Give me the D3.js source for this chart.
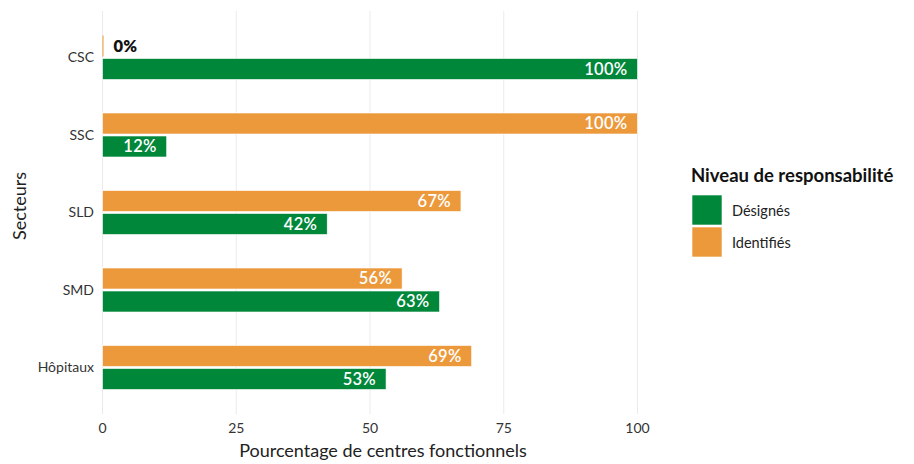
<!DOCTYPE html>
<html>
<head>
<meta charset="utf-8">
<script src="https://cdn.jsdelivr.net/npm/d3@7"></script>
<style>
  body { margin: 0; background: #fff; }
  svg { display: block; font-family: Lato, "Noto Sans", sans-serif; }
</style>
</head>
<body>
<svg id="chart" width="914" height="464"></svg>
<script>
// Sectors, top to bottom
const sectors = ["CSC", "SSC", "SLD", "SMD", "Hôpitaux"];
// Percentage of functional centres per responsibility level
const identifies = [0, 100, 67, 56, 69];
const designes = [100, 12, 42, 63, 53];
const xTicks = [0, 25, 50, 75, 100];
const legendLabels = ["Désignés", "Identifiés"];

const colGreen = "#00873a";
const colOrange = "#ec993c";

const svg = d3.select("#chart");

const x = d3.scaleLinear().domain([0, 100]).range([102.5, 637.5]);
const y = d3.scalePoint().domain(sectors).range([11, 414]).padding(0.6);

// vertical grid
svg.append("g").selectAll("line").data(xTicks).join("line")
  .attr("x1", d => x(d)).attr("x2", d => x(d))
  .attr("y1", 11).attr("y2", 414)
  .attr("stroke", "#ebebeb").attr("stroke-width", 1);

const barH = 21;
const rows = sectors.map((s, i) => ({ s, ident: identifies[i], desig: designes[i] }));

const bars = svg.append("g");
function drawSeries(key, color, offset) {
  bars.selectAll(null).data(rows).join("rect")
    .attr("x", x(0))
    .attr("y", d => y(d.s) + offset)
    .attr("width", d => Math.max(x(d[key]) - x(0), 1))
    .attr("height", barH)
    .attr("fill", color)
    .attr("stroke", "#fff")
    .attr("stroke-width", d => d[key] === 0 ? 0 : 0.6);

  bars.selectAll(null).data(rows).join("text")
    .attr("x", d => d[key] === 0 ? x(0) + 11 : x(d[key]) - 10)
    .attr("y", d => y(d.s) + offset + barH / 2)
    .attr("dy", "0.36em")
    .attr("text-anchor", d => d[key] === 0 ? "start" : "end")
    .attr("fill", d => d[key] === 0 ? "#111" : "#fff")
    .attr("font-size", 16.5)
    .attr("font-weight", d => d[key] === 0 ? 800 : 600)
    .attr("letter-spacing", 0.3)
    .text(d => d[key] + "%");
}
drawSeries("ident", colOrange, -22);
drawSeries("desig", colGreen, 1);

// y axis labels
svg.append("g").selectAll("text").data(sectors).join("text")
  .attr("x", 94).attr("y", d => y(d)).attr("dy", "0.35em")
  .attr("text-anchor", "end").attr("font-size", 14).attr("fill", "#333")
  .text(d => d);

// x axis labels
svg.append("g").selectAll("text").data(xTicks).join("text")
  .attr("x", d => x(d)).attr("y", 428).attr("dy", "0.35em")
  .attr("text-anchor", "middle").attr("font-size", 14).attr("fill", "#333")
  .text(d => d);

// axis titles
svg.append("text").attr("x", 383).attr("y", 451).attr("dy", "0.35em")
  .attr("text-anchor", "middle").attr("font-size", 18).attr("fill", "#222")
  .text("Pourcentage de centres fonctionnels");
svg.append("text").attr("transform", "translate(20,206) rotate(-90)")
  .attr("dy", "0.35em").attr("text-anchor", "middle")
  .attr("font-size", 18).attr("fill", "#222").text("Secteurs");

// legend
const lg = svg.append("g").attr("transform", "translate(691,0)");
lg.append("text").attr("x", 0).attr("y", 176).attr("dy", "0.35em")
  .attr("font-size", 18.5).attr("font-weight", 700).attr("fill", "#111")
  .text("Niveau de responsabilité");
const legendColors = [colGreen, colOrange];
legendLabels.forEach((l, i) => {
  lg.append("rect").attr("x", 1).attr("y", 195 + i * 32).attr("width", 30).attr("height", 30)
    .attr("fill", legendColors[i]).attr("stroke", "#fff").attr("stroke-width", 0.6);
  lg.append("text").attr("x", 41).attr("y", 210.5 + i * 32).attr("dy", "0.35em")
    .attr("font-size", 14.5).attr("fill", "#222").text(l);
});
</script>
</body>
</html>
